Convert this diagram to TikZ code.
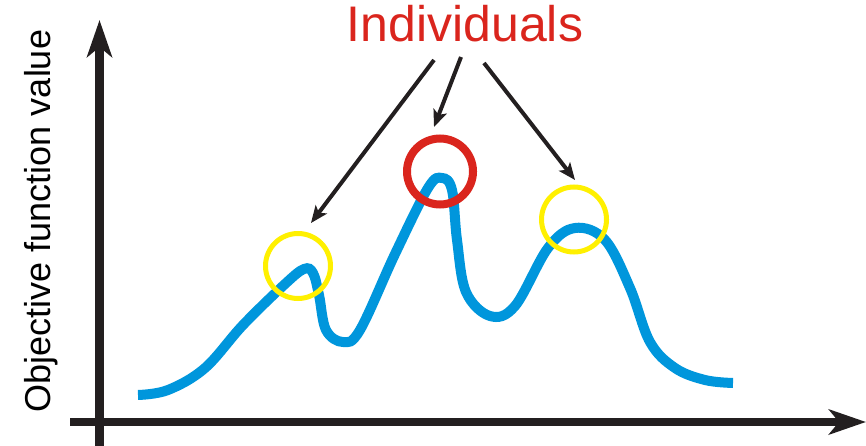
\documentclass[tikz,border=0pt]{standalone}
\usepackage{fontspec}
\setmainfont{Liberation Sans}
\usetikzlibrary{arrows.meta,positioning}
\definecolor{axisblack}{RGB}{35,31,32}
\definecolor{fitblue}{RGB}{0,150,220}
\definecolor{indred}{RGB}{218,37,29}
\definecolor{indyellow}{RGB}{255,240,0}
\tikzset{
  axisarr/.style={-{Stealth[length=37pt, width=25pt, inset=10pt]}, axisblack},
  ptrarr/.style={-{Stealth[length=17pt, width=14pt, inset=4pt]}, axisblack, line width=4pt},
  fitcurve/.style={fitblue, line width=10pt},
  ring/.style={circle, draw, inner sep=0pt, minimum size=65pt, line width=5pt},
}
\begin{document}
\begin{tikzpicture}[x=1pt, y=-1pt]
  \useasboundingbox (0,0) rectangle (866,446);
  % axes
  \coordinate (yfoot) at (99.5,446);
  \coordinate (ytop) at (99.5,20);
  \coordinate (xfoot) at (70,422);
  \coordinate (xtip) at (866,422);
  \draw[axisarr, line width=9pt] (yfoot) -- (ytop);
  \draw[axisarr, line width=8pt] (xfoot) -- (xtip);
  \node[rotate=90, anchor=base, inner sep=0pt, font=\fontsize{36}{40}\selectfont] (ylab) at (50,221) {Objective function value};
  % fitness landscape
  \draw[fitcurve] plot[smooth, tension=0.6] coordinates {
    (138,395) (168,390) (205,368) (243,325) (285,284) (304,269) (313,273)
    (319,295) (326,330) (343,342) (360,330) (395,254) (428,188) (442,178)
    (452,190) (457,240) (466,292) (490,316) (515,306) (548,248) (575,228)
    (605,240) (630,288) (650,342) (675,368) (705,380) (733,383)};
  % individuals
  \node[ring, draw=indyellow] (c1) at (298,266) {};
  \node[ring, draw=indred, line width=8pt, minimum size=66pt] (c2) at (440,171.5) {};
  \node[ring, draw=indyellow] (c3) at (574,219.5) {};
  \node[anchor=base, inner sep=0pt, text=indred, font=\fontsize{50}{56}\selectfont] (title) at (465,42) {Individuals};
  \coordinate (s1) at (434,60);
  \coordinate (s2) at (461,57);
  \coordinate (s3) at (484,63);
  \coordinate (t1) at (311,223);
  \coordinate (t2) at (434,127);
  \coordinate (t3) at (575,180);
  \draw[ptrarr] (s1) -- (t1);
  \draw[ptrarr] (s2) -- (t2);
  \draw[ptrarr] (s3) -- (t3);
\end{tikzpicture}
\end{document}
